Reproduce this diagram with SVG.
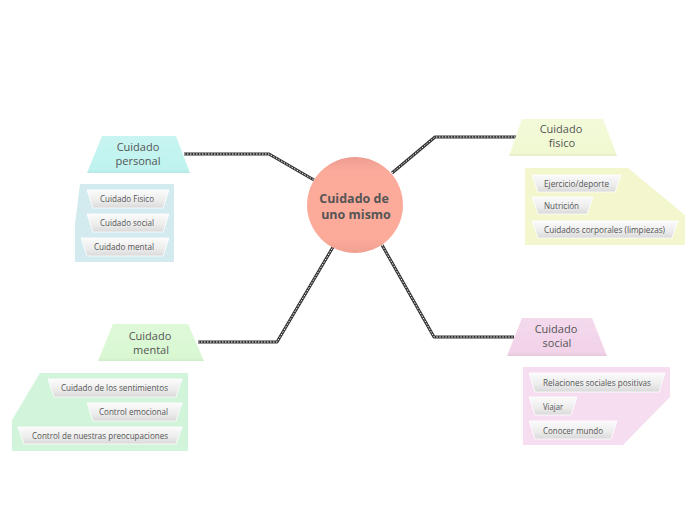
<svg xmlns="http://www.w3.org/2000/svg" width="696" height="520" viewBox="0 0 696 520">
<defs>
<linearGradient id="pill" x1="0" y1="0" x2="0" y2="1">
<stop offset="0" stop-color="#fbfbfb"/>
<stop offset="0.6" stop-color="#ececec"/>
<stop offset="1" stop-color="#d9d9d9"/>
</linearGradient>
<linearGradient id="ball" x1="0" y1="0" x2="0" y2="1">
<stop offset="0" stop-color="#ec9d90"/>
<stop offset="0.15" stop-color="#fcab9b"/>
<stop offset="0.85" stop-color="#fcab9b"/>
<stop offset="1" stop-color="#f0a090"/>
</linearGradient>
<linearGradient id="shade" x1="0" y1="0" x2="0" y2="1">
<stop offset="0" stop-color="#fff" stop-opacity="0.15"/>
<stop offset="0.85" stop-color="#fff" stop-opacity="0"/>
<stop offset="1" stop-color="#000" stop-opacity="0.05"/>
</linearGradient>
</defs>
<style>
.conn{fill:none;stroke:#333;stroke-width:3;stroke-linejoin:round}
.connw{fill:none;stroke:#fff;stroke-width:1;stroke-dasharray:1.5 1.5}
.pill{fill:url(#pill);stroke:#fff;stroke-width:0.8}
.pt{font-family:"Open Sans","DejaVu Sans",sans-serif;font-size:9px;fill:#555}
.mt{font-family:"Open Sans","DejaVu Sans",sans-serif;font-size:11px;fill:#555;text-anchor:middle}
.ct{font-family:"Open Sans","DejaVu Sans",sans-serif;font-size:12.5px;font-weight:bold;fill:#555;text-anchor:middle}
</style>
<rect width="696" height="520" fill="#fff"/>
<g id="connectors">
<path class="conn" d="M184,154 L269,154 L314,180"/>
<path class="connw" d="M184,154 L269,154 L314,180"/>
<path class="conn" d="M392,173 L435,137 L516,137"/>
<path class="connw" d="M392,173 L435,137 L516,137"/>
<path class="conn" d="M198,342 L277,342 L333,247"/>
<path class="connw" d="M198,342 L277,342 L333,247"/>
<path class="conn" d="M382,245 L434,337 L514,337"/>
<path class="connw" d="M382,245 L434,337 L514,337"/>
</g>
<g id="center">
<circle cx="355" cy="205" r="48" fill="url(#ball)"/>
<text class="ct" x="354" y="203">Cuidado de</text>
<text class="ct" x="356" y="219">uno mismo</text>
</g>
<g id="personal">
<polygon points="102,136 176,136 190,173 87,173" fill="#bff3ef"/>
<polygon points="102,136 176,136 190,173 87,173" fill="url(#shade)"/>
<text class="mt" x="138" y="151">Cuidado</text>
<text class="mt" x="138" y="165">personal</text>
</g>
<g id="personal-items">
<polygon points="80,184 174,184 174,262 75,262 75,224" fill="#d3ebee"/>
<polygon class="pill" points="87,190 169,190 163,208 93,208"/>
<text class="pt" x="100" y="202" textLength="54" lengthAdjust="spacingAndGlyphs">Cuidado Fisico</text>
<polygon class="pill" points="87,214 169,214 163,232 93,232"/>
<text class="pt" x="100" y="226" textLength="54" lengthAdjust="spacingAndGlyphs">Cuidado social</text>
<polygon class="pill" points="81,238 169,238 163,256 87,256"/>
<text class="pt" x="94" y="250" textLength="60" lengthAdjust="spacingAndGlyphs">Cuidado mental</text>
</g>
<g id="fisico">
<polygon points="522,119 603,119 617,156 509,156" fill="#f1f9d3"/>
<polygon points="522,119 603,119 617,156 509,156" fill="url(#shade)"/>
<text class="mt" x="561" y="133">Cuidado</text>
<text class="mt" x="562" y="147">fisico</text>
</g>
<g id="fisico-items">
<polygon points="525,168 628,168 685,215 685,245 525,245" fill="#f4f6cd"/>
<polygon class="pill" points="532,175 621,175 615,192 538,192"/>
<text class="pt" x="544" y="187" textLength="65" lengthAdjust="spacingAndGlyphs">Ejercicio/deporte</text>
<polygon class="pill" points="532,197 593,197 587,214 538,214"/>
<text class="pt" x="544" y="209" textLength="35" lengthAdjust="spacingAndGlyphs">Nutrición</text>
<polygon class="pill" points="532,221 678,221 672,238 538,238"/>
<text class="pt" x="544" y="233" textLength="121" lengthAdjust="spacingAndGlyphs">Cuidados corporales (limpiezas)</text>
</g>
<g id="mental">
<polygon points="113,324 188,324 204,361 98,361" fill="#d9f8d2"/>
<polygon points="113,324 188,324 204,361 98,361" fill="url(#shade)"/>
<text class="mt" x="150" y="340">Cuidado</text>
<text class="mt" x="151" y="354">mental</text>
</g>
<g id="mental-items">
<polygon points="40,373 188,373 188,451 12,451 12,420" fill="#d2f4da"/>
<polygon class="pill" points="48,379 182,379 176,397 54,397"/>
<text class="pt" x="61" y="391" textLength="107" lengthAdjust="spacingAndGlyphs">Cuidado de los sentimientos</text>
<polygon class="pill" points="87,403 182,403 176,421 93,421"/>
<text class="pt" x="99" y="415" textLength="69" lengthAdjust="spacingAndGlyphs">Control emocional</text>
<polygon class="pill" points="18,427 182,427 176,444 24,444"/>
<text class="pt" x="32" y="439" textLength="136" lengthAdjust="spacingAndGlyphs">Control de nuestras preocupaciones</text>
</g>
<g id="social">
<polygon points="522,318 592,318 607,356 507,356" fill="#f2d3e9"/>
<polygon points="522,318 592,318 607,356 507,356" fill="url(#shade)"/>
<text class="mt" x="556" y="333">Cuidado</text>
<text class="mt" x="557" y="347">social</text>
</g>
<g id="social-items">
<polygon points="523,367 670,367 670,397 623,445 523,445" fill="#f6def0"/>
<polygon class="pill" points="529,373 665,373 659,392 535,392"/>
<text class="pt" x="543" y="386" textLength="108" lengthAdjust="spacingAndGlyphs">Relaciones sociales positivas</text>
<polygon class="pill" points="529,397 577,397 571,415 535,415"/>
<text class="pt" x="543" y="410" textLength="20" lengthAdjust="spacingAndGlyphs">Viajar</text>
<polygon class="pill" points="529,421 617,421 611,439 535,439"/>
<text class="pt" x="543" y="434" textLength="60" lengthAdjust="spacingAndGlyphs">Conocer mundo</text>
</g>
</svg>
